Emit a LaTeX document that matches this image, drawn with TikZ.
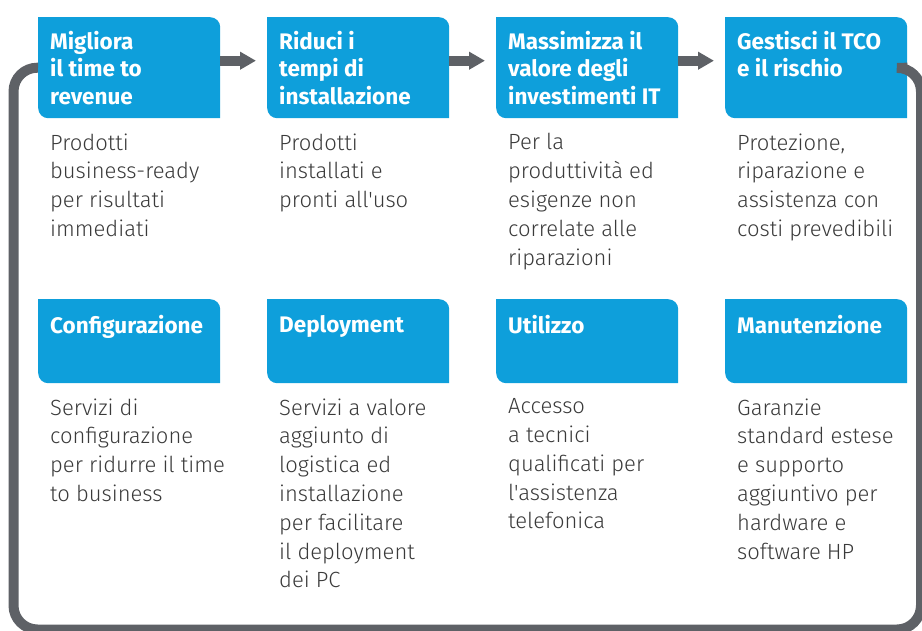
\documentclass[tikz,border=0pt]{standalone}
\usepackage{fontspec}
\setmainfont{Fira Sans}
\newfontfamily\lightfont{Fira Sans Light}
\usetikzlibrary{arrows.meta,positioning}
\definecolor{hpblue}{HTML}{0E9FDB}
\definecolor{loopgray}{HTML}{5E6166}
\definecolor{copygray}{HTML}{3A3A3A}

\begin{document}
\begin{tikzpicture}[x=1pt,y=1pt]
\tikzstyle{box}=[anchor=north west, minimum width=182pt, minimum height=101pt,
                 inner sep=0pt,
                 path picture={\fill[hpblue] (path picture bounding box.north west)
                   -- ([xshift=-10pt]path picture bounding box.north east)
                   arc[start angle=90, end angle=0, radius=10pt]
                   -- (path picture bounding box.south east)
                   -- ([xshift=10pt]path picture bounding box.south west)
                   arc[start angle=270, end angle=180, radius=10pt] -- cycle;}]
\tikzstyle{lowbox}=[box, minimum height=84pt]
\tikzstyle{head}=[anchor=north west, inner sep=0pt, align=left, text=white,
                  font=\bfseries\fontsize{22.5}{27.5}\selectfont]
\tikzstyle{copy}=[anchor=north west, inner sep=0pt, align=left, text=copygray,
                  font=\lightfont\fontsize{22}{28.8}\selectfont]
\tikzstyle{flow}=[draw=loopgray, line width=10pt, -{Triangle[width=17pt,length=16pt]}]
\tikzstyle{frame}=[draw=loopgray, line width=10pt, rounded corners=24pt]
\useasboundingbox (0,0) rectangle (922,-630);
\clip (0,0) rectangle (922,-630);
% top row
\node[box] (b1) at (38,-17) {};
\node[box] (b2) at (267,-17) {};
\node[box] (b3) at (496,-17) {};
\node[box] (b4) at (725,-17) {};
% bottom row
\node[lowbox] (b5) at (38,-299) {};
\node[lowbox] (b6) at (267,-299) {};
\node[lowbox] (b7) at (496,-299) {};
\node[lowbox] (b8) at (725,-299) {};
% titles
\node[head, below right=14pt and 12pt of b1.north west] (h1) {Migliora\\il time to\\revenue};
\node[head, below right=14pt and 12pt of b2.north west] (h2) {Riduci i\\tempi di\\installazione};
\node[head, below right=14pt and 12pt of b3.north west] (h3) {Massimizza il\\valore degli\\investimenti IT};
\node[head, below right=14pt and 12pt of b4.north west] (h4) {Gestisci il TCO\\e il rischio};
\node[head, below right=16pt and 12pt of b5.north west] (h5) {Configurazione};
\node[head, below right=16pt and 12pt of b6.north west] (h6) {Deployment};
\node[head, below right=16pt and 12pt of b7.north west] (h7) {Utilizzo};
\node[head, below right=16pt and 12pt of b8.north west] (h8) {Manutenzione};
% descriptions
\node[copy, below right=15pt and 12pt of b1.south west] (c1) {Prodotti\\business-ready\\per risultati\\immediati};
\node[copy, below right=15pt and 12pt of b2.south west] (c2) {Prodotti\\installati e\\pronti all'uso};
\node[copy, below right=15pt and 12pt of b3.south west] (c3) {Per la\\produttività ed\\esigenze non\\correlate alle\\riparazioni};
\node[copy, below right=15pt and 12pt of b4.south west] (c4) {Protezione,\\riparazione e\\assistenza con\\costi prevedibili};
\node[copy, below right=15pt and 12pt of b5.south west] (c5) {Servizi di\\configurazione\\per ridurre il time\\to business};
\node[copy, below right=15pt and 12pt of b6.south west] (c6) {Servizi a valore\\aggiunto di\\logistica ed\\installazione\\per facilitare\\il deployment\\dei PC};
\node[copy, below right=15pt and 12pt of b7.south west] (c7) {Accesso\\a tecnici\\qualificati per\\l'assistenza\\telefonica};
\node[copy, below right=15pt and 12pt of b8.south west] (c8) {Garanzie\\standard estese\\e supporto\\aggiuntivo per\\hardware e\\software HP};
% arrows and loop
\draw[flow] ([yshift=7pt]b1.east) -- ([xshift=-11pt,yshift=7pt]b2.west);
\draw[flow] ([yshift=7pt]b2.east) -- ([xshift=-11pt,yshift=7pt]b3.west);
\draw[flow] ([yshift=7pt]b3.east) -- ([xshift=-11pt,yshift=7pt]b4.west);
\draw[frame] (b1.west) -- (13.5,-67.5) -- (13.5,-629.5) -- (921,-629.5) -- (921,-67.5) -- (b4.east);
\end{tikzpicture}
\end{document}
